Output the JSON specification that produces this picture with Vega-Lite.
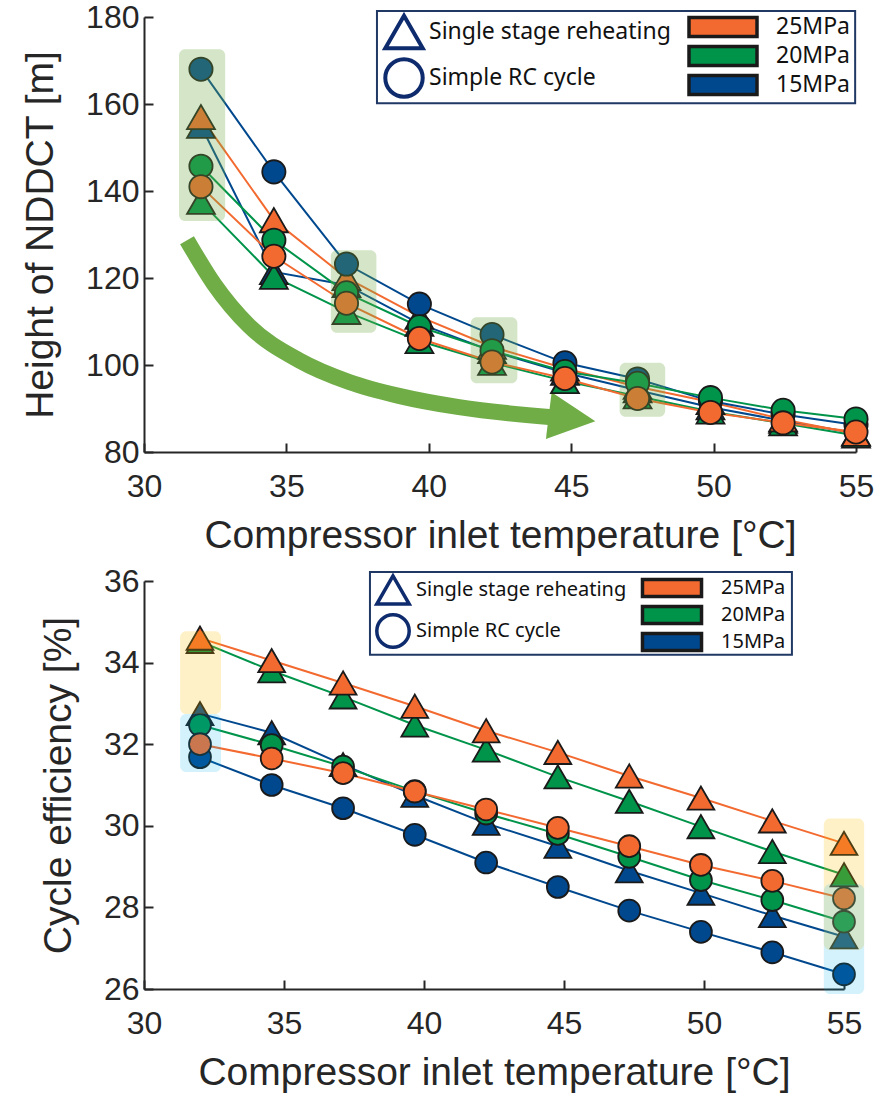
{
  "$schema": "https://vega.github.io/schema/vega-lite/v6.json",
  "background": "white",
  "padding": {"left": 21, "top": 1, "right": 5, "bottom": 5},
  "spacing": 10,
  "resolve": {"scale": {"fill": "independent", "stroke": "independent", "shape": "independent"}, "legend": {"fill": "independent", "shape": "independent"}},
  "config": {
    "view": {"stroke": null},
    "axis": {"domainColor": "#262626", "domainWidth": 2, "tickColor": "#262626", "tickWidth": 2, "tickSize": -9, "labelFont": "Liberation Sans", "labelFontSize": 32, "labelColor": "#262626", "titleFont": "Liberation Sans", "titleFontSize": 39, "titleColor": "#262626", "titleFontWeight": "normal", "grid": false, "labelFlush": false, "labelOverlap": false},
    "axisX": {"labelPadding": 28, "titlePadding": 14},
    "axisY": {"labelPadding": 14, "titlePadding": 25}
  },
  "datasets": {
    "height": [
      {"T": 32, "v": 155, "pressure": "15MPa", "cycle": "Single stage reheating"},
      {"T": 34.56, "v": 121.4, "pressure": "15MPa", "cycle": "Single stage reheating"},
      {"T": 37.11, "v": 118.4, "pressure": "15MPa", "cycle": "Single stage reheating"},
      {"T": 39.67, "v": 109.5, "pressure": "15MPa", "cycle": "Single stage reheating"},
      {"T": 42.22, "v": 103.2, "pressure": "15MPa", "cycle": "Single stage reheating"},
      {"T": 44.78, "v": 98.2, "pressure": "15MPa", "cycle": "Single stage reheating"},
      {"T": 47.33, "v": 94.2, "pressure": "15MPa", "cycle": "Single stage reheating"},
      {"T": 49.89, "v": 90.3, "pressure": "15MPa", "cycle": "Single stage reheating"},
      {"T": 52.44, "v": 87.2, "pressure": "15MPa", "cycle": "Single stage reheating"},
      {"T": 55, "v": 84.3, "pressure": "15MPa", "cycle": "Single stage reheating"},
      {"T": 32, "v": 137.5, "pressure": "20MPa", "cycle": "Single stage reheating"},
      {"T": 34.56, "v": 120.3, "pressure": "20MPa", "cycle": "Single stage reheating"},
      {"T": 37.11, "v": 112.2, "pressure": "20MPa", "cycle": "Single stage reheating"},
      {"T": 39.67, "v": 105.5, "pressure": "20MPa", "cycle": "Single stage reheating"},
      {"T": 42.22, "v": 100.5, "pressure": "20MPa", "cycle": "Single stage reheating"},
      {"T": 44.78, "v": 96.3, "pressure": "20MPa", "cycle": "Single stage reheating"},
      {"T": 47.33, "v": 92.8, "pressure": "20MPa", "cycle": "Single stage reheating"},
      {"T": 49.89, "v": 89.3, "pressure": "20MPa", "cycle": "Single stage reheating"},
      {"T": 52.44, "v": 86.6, "pressure": "20MPa", "cycle": "Single stage reheating"},
      {"T": 55, "v": 83.8, "pressure": "20MPa", "cycle": "Single stage reheating"},
      {"T": 32, "v": 157, "pressure": "25MPa", "cycle": "Single stage reheating"},
      {"T": 34.56, "v": 133.3, "pressure": "25MPa", "cycle": "Single stage reheating"},
      {"T": 37.11, "v": 120, "pressure": "25MPa", "cycle": "Single stage reheating"},
      {"T": 39.67, "v": 111.1, "pressure": "25MPa", "cycle": "Single stage reheating"},
      {"T": 42.22, "v": 104.2, "pressure": "25MPa", "cycle": "Single stage reheating"},
      {"T": 44.78, "v": 99.2, "pressure": "25MPa", "cycle": "Single stage reheating"},
      {"T": 47.33, "v": 95, "pressure": "25MPa", "cycle": "Single stage reheating"},
      {"T": 49.89, "v": 91.5, "pressure": "25MPa", "cycle": "Single stage reheating"},
      {"T": 52.44, "v": 87.5, "pressure": "25MPa", "cycle": "Single stage reheating"},
      {"T": 55, "v": 84.2, "pressure": "25MPa", "cycle": "Single stage reheating"},
      {"T": 32, "v": 168, "pressure": "15MPa", "cycle": "Simple RC cycle"},
      {"T": 34.56, "v": 144.4, "pressure": "15MPa", "cycle": "Simple RC cycle"},
      {"T": 37.11, "v": 123.2, "pressure": "15MPa", "cycle": "Simple RC cycle"},
      {"T": 39.67, "v": 114, "pressure": "15MPa", "cycle": "Simple RC cycle"},
      {"T": 42.22, "v": 107, "pressure": "15MPa", "cycle": "Simple RC cycle"},
      {"T": 44.78, "v": 100.5, "pressure": "15MPa", "cycle": "Simple RC cycle"},
      {"T": 47.33, "v": 96.8, "pressure": "15MPa", "cycle": "Simple RC cycle"},
      {"T": 49.89, "v": 91.7, "pressure": "15MPa", "cycle": "Simple RC cycle"},
      {"T": 52.44, "v": 88.6, "pressure": "15MPa", "cycle": "Simple RC cycle"},
      {"T": 55, "v": 86.2, "pressure": "15MPa", "cycle": "Simple RC cycle"},
      {"T": 32, "v": 145.7, "pressure": "20MPa", "cycle": "Simple RC cycle"},
      {"T": 34.56, "v": 128.7, "pressure": "20MPa", "cycle": "Simple RC cycle"},
      {"T": 37.11, "v": 116.6, "pressure": "20MPa", "cycle": "Simple RC cycle"},
      {"T": 39.67, "v": 108.8, "pressure": "20MPa", "cycle": "Simple RC cycle"},
      {"T": 42.22, "v": 103.3, "pressure": "20MPa", "cycle": "Simple RC cycle"},
      {"T": 44.78, "v": 98.5, "pressure": "20MPa", "cycle": "Simple RC cycle"},
      {"T": 47.33, "v": 95.8, "pressure": "20MPa", "cycle": "Simple RC cycle"},
      {"T": 49.89, "v": 92.5, "pressure": "20MPa", "cycle": "Simple RC cycle"},
      {"T": 52.44, "v": 89.6, "pressure": "20MPa", "cycle": "Simple RC cycle"},
      {"T": 55, "v": 87.6, "pressure": "20MPa", "cycle": "Simple RC cycle"},
      {"T": 32, "v": 141, "pressure": "25MPa", "cycle": "Simple RC cycle"},
      {"T": 34.56, "v": 125, "pressure": "25MPa", "cycle": "Simple RC cycle"},
      {"T": 37.11, "v": 114.2, "pressure": "25MPa", "cycle": "Simple RC cycle"},
      {"T": 39.67, "v": 106.1, "pressure": "25MPa", "cycle": "Simple RC cycle"},
      {"T": 42.22, "v": 100.7, "pressure": "25MPa", "cycle": "Simple RC cycle"},
      {"T": 44.78, "v": 96.9, "pressure": "25MPa", "cycle": "Simple RC cycle"},
      {"T": 47.33, "v": 92.3, "pressure": "25MPa", "cycle": "Simple RC cycle"},
      {"T": 49.89, "v": 89.1, "pressure": "25MPa", "cycle": "Simple RC cycle"},
      {"T": 52.44, "v": 86.7, "pressure": "25MPa", "cycle": "Simple RC cycle"},
      {"T": 55, "v": 84.6, "pressure": "25MPa", "cycle": "Simple RC cycle"}
    ],
    "eff": [
      {"T": 32, "v": 32.75, "pressure": "15MPa", "cycle": "Single stage reheating"},
      {"T": 34.56, "v": 32.28, "pressure": "15MPa", "cycle": "Single stage reheating"},
      {"T": 37.11, "v": 31.5, "pressure": "15MPa", "cycle": "Single stage reheating"},
      {"T": 39.67, "v": 30.75, "pressure": "15MPa", "cycle": "Single stage reheating"},
      {"T": 42.22, "v": 30.06, "pressure": "15MPa", "cycle": "Single stage reheating"},
      {"T": 44.78, "v": 29.5, "pressure": "15MPa", "cycle": "Single stage reheating"},
      {"T": 47.33, "v": 28.9, "pressure": "15MPa", "cycle": "Single stage reheating"},
      {"T": 49.89, "v": 28.35, "pressure": "15MPa", "cycle": "Single stage reheating"},
      {"T": 52.44, "v": 27.8, "pressure": "15MPa", "cycle": "Single stage reheating"},
      {"T": 55, "v": 27.28, "pressure": "15MPa", "cycle": "Single stage reheating"},
      {"T": 32, "v": 34.52, "pressure": "20MPa", "cycle": "Single stage reheating"},
      {"T": 34.56, "v": 33.8, "pressure": "20MPa", "cycle": "Single stage reheating"},
      {"T": 37.11, "v": 33.16, "pressure": "20MPa", "cycle": "Single stage reheating"},
      {"T": 39.67, "v": 32.47, "pressure": "20MPa", "cycle": "Single stage reheating"},
      {"T": 42.22, "v": 31.86, "pressure": "20MPa", "cycle": "Single stage reheating"},
      {"T": 44.78, "v": 31.2, "pressure": "20MPa", "cycle": "Single stage reheating"},
      {"T": 47.33, "v": 30.6, "pressure": "20MPa", "cycle": "Single stage reheating"},
      {"T": 49.89, "v": 29.98, "pressure": "20MPa", "cycle": "Single stage reheating"},
      {"T": 52.44, "v": 29.37, "pressure": "20MPa", "cycle": "Single stage reheating"},
      {"T": 55, "v": 28.8, "pressure": "20MPa", "cycle": "Single stage reheating"},
      {"T": 32, "v": 34.6, "pressure": "25MPa", "cycle": "Single stage reheating"},
      {"T": 34.56, "v": 34.05, "pressure": "25MPa", "cycle": "Single stage reheating"},
      {"T": 37.11, "v": 33.5, "pressure": "25MPa", "cycle": "Single stage reheating"},
      {"T": 39.67, "v": 32.93, "pressure": "25MPa", "cycle": "Single stage reheating"},
      {"T": 42.22, "v": 32.33, "pressure": "25MPa", "cycle": "Single stage reheating"},
      {"T": 44.78, "v": 31.8, "pressure": "25MPa", "cycle": "Single stage reheating"},
      {"T": 47.33, "v": 31.22, "pressure": "25MPa", "cycle": "Single stage reheating"},
      {"T": 49.89, "v": 30.68, "pressure": "25MPa", "cycle": "Single stage reheating"},
      {"T": 52.44, "v": 30.12, "pressure": "25MPa", "cycle": "Single stage reheating"},
      {"T": 55, "v": 29.57, "pressure": "25MPa", "cycle": "Single stage reheating"},
      {"T": 32, "v": 31.68, "pressure": "15MPa", "cycle": "Simple RC cycle"},
      {"T": 34.56, "v": 31.0, "pressure": "15MPa", "cycle": "Simple RC cycle"},
      {"T": 37.11, "v": 30.43, "pressure": "15MPa", "cycle": "Simple RC cycle"},
      {"T": 39.67, "v": 29.78, "pressure": "15MPa", "cycle": "Simple RC cycle"},
      {"T": 42.22, "v": 29.1, "pressure": "15MPa", "cycle": "Simple RC cycle"},
      {"T": 44.78, "v": 28.5, "pressure": "15MPa", "cycle": "Simple RC cycle"},
      {"T": 47.33, "v": 27.92, "pressure": "15MPa", "cycle": "Simple RC cycle"},
      {"T": 49.89, "v": 27.4, "pressure": "15MPa", "cycle": "Simple RC cycle"},
      {"T": 52.44, "v": 26.9, "pressure": "15MPa", "cycle": "Simple RC cycle"},
      {"T": 55, "v": 26.36, "pressure": "15MPa", "cycle": "Simple RC cycle"},
      {"T": 32, "v": 32.47, "pressure": "20MPa", "cycle": "Simple RC cycle"},
      {"T": 34.56, "v": 31.98, "pressure": "20MPa", "cycle": "Simple RC cycle"},
      {"T": 37.11, "v": 31.45, "pressure": "20MPa", "cycle": "Simple RC cycle"},
      {"T": 39.67, "v": 30.85, "pressure": "20MPa", "cycle": "Simple RC cycle"},
      {"T": 42.22, "v": 30.3, "pressure": "20MPa", "cycle": "Simple RC cycle"},
      {"T": 44.78, "v": 29.8, "pressure": "20MPa", "cycle": "Simple RC cycle"},
      {"T": 47.33, "v": 29.24, "pressure": "20MPa", "cycle": "Simple RC cycle"},
      {"T": 49.89, "v": 28.67, "pressure": "20MPa", "cycle": "Simple RC cycle"},
      {"T": 52.44, "v": 28.18, "pressure": "20MPa", "cycle": "Simple RC cycle"},
      {"T": 55, "v": 27.65, "pressure": "20MPa", "cycle": "Simple RC cycle"},
      {"T": 32, "v": 32.0, "pressure": "25MPa", "cycle": "Simple RC cycle"},
      {"T": 34.56, "v": 31.65, "pressure": "25MPa", "cycle": "Simple RC cycle"},
      {"T": 37.11, "v": 31.29, "pressure": "25MPa", "cycle": "Simple RC cycle"},
      {"T": 39.67, "v": 30.84, "pressure": "25MPa", "cycle": "Simple RC cycle"},
      {"T": 42.22, "v": 30.4, "pressure": "25MPa", "cycle": "Simple RC cycle"},
      {"T": 44.78, "v": 29.95, "pressure": "25MPa", "cycle": "Simple RC cycle"},
      {"T": 47.33, "v": 29.5, "pressure": "25MPa", "cycle": "Simple RC cycle"},
      {"T": 49.89, "v": 29.04, "pressure": "25MPa", "cycle": "Simple RC cycle"},
      {"T": 52.44, "v": 28.65, "pressure": "25MPa", "cycle": "Simple RC cycle"},
      {"T": 55, "v": 28.22, "pressure": "25MPa", "cycle": "Simple RC cycle"}
    ]
  },
  "vconcat": [
    {
      "width": 712,
      "height": 435,
      "layer": [
        {
          "data": {"values": [{"T": 31.51, "v": 128.7}, {"T": 32.46, "v": 118.6}, {"T": 33.69, "v": 109.0}, {"T": 35.44, "v": 101.1}, {"T": 37.2, "v": 96.1}, {"T": 38.95, "v": 92.9}, {"T": 41.06, "v": 90.3}, {"T": 44.33, "v": 88.0}]},
          "mark": {"type": "line", "stroke": "#70AD47", "strokeWidth": 16, "strokeCap": "butt", "interpolate": "monotone"},
          "encoding": {"x": {"field": "T", "type": "quantitative"}, "y": {"field": "v", "type": "quantitative"}}
        },
        {
          "data": {"values": [{"T": 45.03, "v": 87.7}]},
          "mark": {"type": "point", "filled": true, "fill": "#70AD47", "opacity": 1, "shape": "M-1,-1L1,0L-1,1Z", "size": 2200, "angle": 7},
          "encoding": {"x": {"field": "T", "type": "quantitative"}, "y": {"field": "v", "type": "quantitative"}}
        },
        {
          "data": {"name": "height"},
          "mark": {"type": "line", "strokeWidth": 2},
          "encoding": {
            "x": {"field": "T", "type": "quantitative", "scale": {"domain": [30, 55], "nice": false, "zero": false}, "axis": {"title": "Compressor inlet temperature [°C]", "values": [30, 35, 40, 45, 50, 55]}},
            "y": {"field": "v", "type": "quantitative", "scale": {"domain": [80, 180], "nice": false, "zero": false}, "axis": {"title": "Height of NDDCT [m]", "values": [80, 100, 120, 140, 160, 180]}},
            "stroke": {"field": "pressure", "type": "nominal", "scale": {"domain": ["15MPa", "20MPa", "25MPa"], "range": ["#00488E", "#00944A", "#F36A30"]}, "legend": null},
            "detail": {"field": "cycle"}
          }
        },
        {
          "data": {"name": "height"},
          "transform": [{"filter": {"field": "cycle", "equal": "Single stage reheating"}}],
          "mark": {"type": "point", "filled": true, "opacity": 1, "stroke": "#1a1a1a", "strokeWidth": 1.8, "size": 780},
          "encoding": {
            "x": {"field": "T", "type": "quantitative"},
            "y": {"field": "v", "type": "quantitative"},
            "fill": {"field": "pressure", "type": "nominal", "scale": {"domain": ["25MPa", "20MPa", "15MPa"], "range": ["#F36A30", "#00944A", "#00488E"]},
              "legend": {"orient": "none", "legendX": 567, "legendY": -2, "title": null, "padding": 0, "symbolType": "M-3.4,-0.95H3.4V0.95H-3.4Z", "symbolSize": 400, "symbolStrokeColor": "black", "symbolStrokeWidth": 3.5, "symbolOpacity": 1, "labelFont": "Noto Sans", "labelFontSize": 23, "labelColor": "#111111", "labelOffset": 41, "labelLimit": 400, "rowPadding": -6}},
            "shape": {"field": "cycle", "type": "nominal", "scale": {"domain": ["Single stage reheating", "Simple RC cycle"], "range": ["triangle-up", "circle"]},
              "legend": {"orient": "none", "legendX": 239, "legendY": -6, "title": null, "padding": 0, "symbolSize": 1400, "symbolFillColor": "white", "symbolStrokeColor": "#0E2B6E", "symbolStrokeWidth": 4, "labelFont": "Noto Sans", "labelFontSize": 23, "labelColor": "#111111", "labelOffset": 4, "labelLimit": 400, "rowPadding": -8}}
          }
        },
        {
          "data": {"name": "height"},
          "transform": [{"filter": {"field": "cycle", "equal": "Simple RC cycle"}}],
          "mark": {"type": "point", "filled": true, "opacity": 1, "stroke": "#1a1a1a", "strokeWidth": 1.8, "size": 540},
          "encoding": {
            "x": {"field": "T", "type": "quantitative"},
            "y": {"field": "v", "type": "quantitative"},
            "fill": {"field": "pressure", "type": "nominal"},
            "shape": {"field": "cycle", "type": "nominal"}
          }
        },
        {
          "data": {"values": [{"x1": 31.23, "x2": 32.85, "y1": 172.6, "y2": 133.1}, {"x1": 36.56, "x2": 38.16, "y1": 126.4, "y2": 107.4}, {"x1": 41.47, "x2": 43.11, "y1": 111.0, "y2": 95.8}, {"x1": 46.7, "x2": 48.3, "y1": 100.5, "y2": 88.1}]},
          "mark": {"type": "rect", "fill": "#70AD47", "fillOpacity": 0.3, "cornerRadius": 6},
          "encoding": {"x": {"field": "x1", "type": "quantitative"}, "x2": {"field": "x2"}, "y": {"field": "y1", "type": "quantitative"}, "y2": {"field": "y2"}}
        },
        {
          "data": {"values": [{}]},
          "mark": {"type": "rect", "fill": "white", "stroke": "#1F3864", "strokeWidth": 2},
          "encoding": {"x": {"datum": 38.18}, "x2": {"datum": 54.97}, "y": {"datum": 181.4}, "y2": {"datum": 160.2}}
        }
      ]
    },
    {
      "width": 700,
      "height": 408,
      "layer": [
        {
          "data": {"name": "eff"},
          "mark": {"type": "line", "strokeWidth": 2},
          "encoding": {
            "x": {"field": "T", "type": "quantitative", "scale": {"domain": [30, 55], "nice": false, "zero": false}, "axis": {"title": "Compressor inlet temperature [°C]", "values": [30, 35, 40, 45, 50, 55]}},
            "y": {"field": "v", "type": "quantitative", "scale": {"domain": [26, 36], "nice": false, "zero": false}, "axis": {"title": "Cycle efficiency [%]", "values": [26, 28, 30, 32, 34, 36]}},
            "stroke": {"field": "pressure", "type": "nominal", "scale": {"domain": ["15MPa", "20MPa", "25MPa"], "range": ["#00488E", "#00944A", "#F36A30"]}, "legend": null},
            "detail": {"field": "cycle"}
          }
        },
        {
          "data": {"name": "eff"},
          "transform": [{"filter": {"field": "cycle", "equal": "Single stage reheating"}}],
          "mark": {"type": "point", "filled": true, "opacity": 1, "stroke": "#1a1a1a", "strokeWidth": 1.8, "size": 720},
          "encoding": {
            "x": {"field": "T", "type": "quantitative"},
            "y": {"field": "v", "type": "quantitative"},
            "fill": {"field": "pressure", "type": "nominal", "scale": {"domain": ["25MPa", "20MPa", "15MPa"], "range": ["#F36A30", "#00944A", "#00488E"]},
              "legend": {"orient": "none", "legendX": 517, "legendY": -4, "title": null, "padding": 0, "symbolType": "M-3.28,-0.94H3.28V0.94H-3.28Z", "symbolSize": 324, "symbolStrokeColor": "black", "symbolStrokeWidth": 3.5, "symbolOpacity": 1, "labelFont": "Noto Sans", "labelFontSize": 20, "labelColor": "#111111", "labelOffset": 38, "labelLimit": 400, "rowPadding": -6}},
            "shape": {"field": "cycle", "type": "nominal", "scale": {"domain": ["Single stage reheating", "Simple RC cycle"], "range": ["triangle-up", "circle"]},
              "legend": {"orient": "none", "legendX": 231, "legendY": -9, "title": null, "padding": 0, "symbolSize": 1050, "symbolFillColor": "white", "symbolStrokeColor": "#0E2B6E", "symbolStrokeWidth": 3.5, "labelFont": "Noto Sans", "labelFontSize": 20, "labelColor": "#111111", "labelOffset": 5, "labelLimit": 400, "rowPadding": -5}}
          }
        },
        {
          "data": {"name": "eff"},
          "transform": [{"filter": {"field": "cycle", "equal": "Simple RC cycle"}}],
          "mark": {"type": "point", "filled": true, "opacity": 1, "stroke": "#1a1a1a", "strokeWidth": 1.8, "size": 480},
          "encoding": {
            "x": {"field": "T", "type": "quantitative"},
            "y": {"field": "v", "type": "quantitative"},
            "fill": {"field": "pressure", "type": "nominal"},
            "shape": {"field": "cycle", "type": "nominal"}
          }
        },
        {
          "data": {"values": [{"x1": 31.29, "x2": 32.75, "y1": 34.77, "y2": 32.74}, {"x1": 54.28, "x2": 55.72, "y1": 30.18, "y2": 26.96}]},
          "mark": {"type": "rect", "fill": "#FFC000", "fillOpacity": 0.22, "cornerRadius": 6},
          "encoding": {"x": {"field": "x1", "type": "quantitative"}, "x2": {"field": "x2"}, "y": {"field": "y1", "type": "quantitative"}, "y2": {"field": "y2"}}
        },
        {
          "data": {"values": [{"x1": 31.29, "x2": 32.75, "y1": 32.74, "y2": 31.32}, {"x1": 54.28, "x2": 55.72, "y1": 28.57, "y2": 25.88}]},
          "mark": {"type": "rect", "fill": "#00B0F0", "fillOpacity": 0.17, "cornerRadius": 6},
          "encoding": {"x": {"field": "x1", "type": "quantitative"}, "x2": {"field": "x2"}, "y": {"field": "y1", "type": "quantitative"}, "y2": {"field": "y2"}}
        },
        {
          "data": {"values": [{}]},
          "mark": {"type": "rect", "fill": "white", "stroke": "#1F3864", "strokeWidth": 2},
          "encoding": {"x": {"datum": 38.07}, "x2": {"datum": 53.14}, "y": {"datum": 36.22}, "y2": {"datum": 34.19}}
        }
      ]
    }
  ]
}
